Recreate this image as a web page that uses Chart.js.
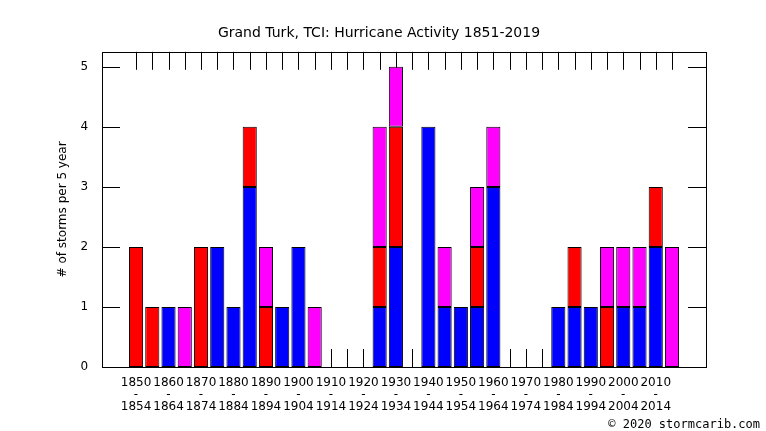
<!DOCTYPE html>
<html><head><meta charset="utf-8">
<script src="https://cdn.jsdelivr.net/npm/chart.js@4"></script>
<style>body{margin:0;background:#fff}#w{width:766px;height:431px;position:relative}
#c{position:absolute;bottom:0px;right:6px;font:12px "DejaVu Sans Mono",monospace}</style>
</head><body><div id="w"><canvas id="ch" width="766" height="431"></canvas><div id="c">© 2020 stormcarib.com</div></div>
<script>
const startYears = [1850,1855,1860,1865,1870,1875,1880,1885,1890,1895,1900,1905,1910,1915,1920,1925,1930,1935,1940,1945,1950,1955,1960,1965,1970,1975,1980,1985,1990,1995,2000,2005,2010,2015];
const blue    = [0,0,1,0,0,2,1,3,0,1,2,0,0,0,0,1,2,0,4,1,1,1,3,0,0,0,1,1,1,0,1,1,2,0];
const red     = [2,1,0,0,2,0,0,1,1,0,0,0,0,0,0,1,2,0,0,0,0,1,0,0,0,0,0,1,0,1,0,0,1,0];
const magenta = [0,0,0,1,0,0,0,0,1,0,0,1,0,0,0,2,1,0,0,1,0,1,1,0,0,0,0,0,0,1,1,1,0,2];
const yTicks = [0,1,2,3,4,5];

const pts = arr => arr.map((v,i)=>({x:i,y:v}));
const ds = (d,c)=>({data:pts(d),backgroundColor:c,borderColor:'#000',borderWidth:1,borderSkipped:false,barPercentage:0.87,categoryPercentage:1});

const ticksPlugin = {
  id:'ticks',
  beforeDatasetsDraw(chart){
    const {ctx,chartArea:a,scales:{x,y}} = chart;
    ctx.save();ctx.strokeStyle='#000';ctx.lineWidth=1;
    startYears.forEach((yr,i)=>{
      const px=Math.round(x.getPixelForValue(i))+0.5;
      ctx.beginPath();ctx.moveTo(px,a.top);ctx.lineTo(px,a.top+18);ctx.moveTo(px,a.bottom);ctx.lineTo(px,a.bottom-18);ctx.stroke();
    });
    yTicks.forEach(t=>{
      const py=Math.round(y.getPixelForValue(t))+0.5;
      ctx.beginPath();ctx.moveTo(a.left,py);ctx.lineTo(a.left+18,py);ctx.moveTo(a.right,py);ctx.lineTo(a.right-18,py);ctx.stroke();
    });
    ctx.restore();
  },
  afterDraw(chart){
    const {ctx,chartArea:a} = chart;
    ctx.save();ctx.strokeStyle='#000';ctx.lineWidth=1;
    ctx.strokeRect(Math.round(a.left)+0.5,Math.round(a.top)+0.5,Math.round(a.right-a.left),Math.round(a.bottom-a.top));
    ctx.restore();
  }
};

new Chart(document.getElementById('ch'),{
  type:'bar',
  data:{datasets:[ds(blue,'#0000ff'),ds(red,'#ff0000'),ds(magenta,'#ff00ff')]},
  options:{
    responsive:false,animation:false,
    layout:{padding:{left:52,right:60,top:0,bottom:16}},
    plugins:{legend:{display:false},tooltip:{enabled:false},
      title:{display:true,text:'Grand Turk, TCI: Hurricane Activity 1851-2019',color:'#000',font:{family:'DejaVu Sans',size:14,weight:'normal'},padding:{top:25,bottom:10}}},
    scales:{
      x:{type:'linear',stacked:true,min:-1,max:34,grid:{display:false},border:{display:false},
        afterBuildTicks:s=>{s.ticks=startYears.map((y,i)=>({value:i})).filter((t,i)=>i%2===0);},
        ticks:{autoSkip:false,maxRotation:0,color:'#000',font:{family:'DejaVu Sans',size:12,lineHeight:1.0},padding:2,
          callback:v=>[String(startYears[v]),'-',String(startYears[v]+4)]}},
      y:{stacked:true,min:0,max:5.25,grid:{display:false},border:{display:false},
        afterBuildTicks:s=>{s.ticks=yTicks.map(v=>({value:v}));},
        ticks:{color:'#000',font:{family:'DejaVu Sans',size:12},padding:6},
        title:{display:true,text:'# of storms per 5 year',color:'#000',font:{family:'DejaVu Sans',size:12}}}
    }
  },
  plugins:[ticksPlugin]
});
</script></body></html>
